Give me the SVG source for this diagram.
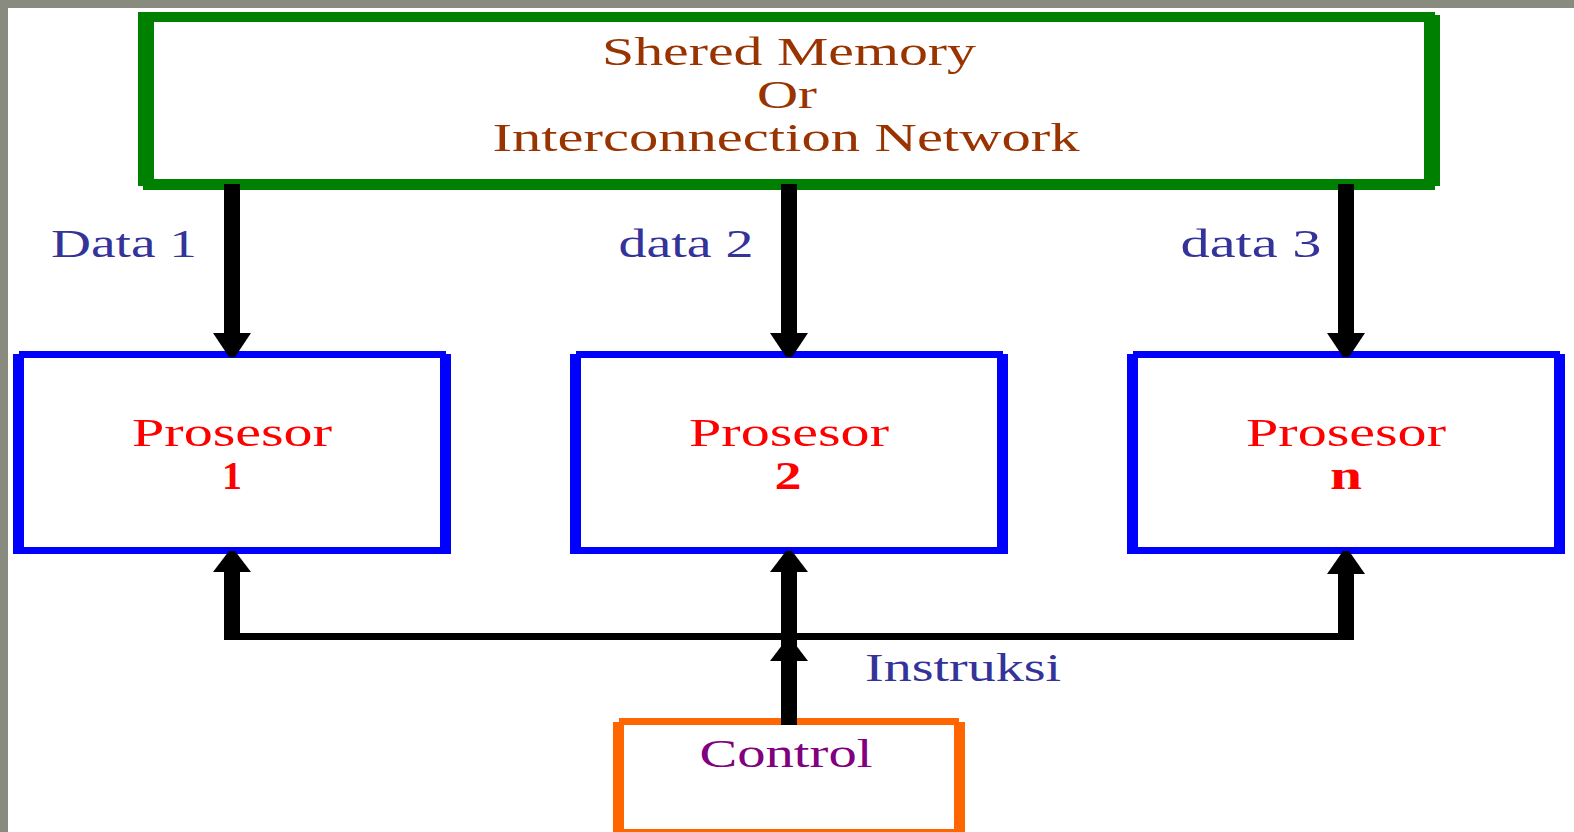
<svg xmlns="http://www.w3.org/2000/svg" width="1574" height="832" viewBox="0 0 1574 832">
<style>
.t{font-family:"Liberation Serif","DejaVu Serif",serif;font-size:40px}
.nav{fill:#333399}
.brn{fill:#993300}
.red{fill:#ff0000}
.pur{fill:#800080}
.blk{fill:#000000}
</style>
<rect x="0" y="0" width="1574" height="832" fill="#ffffff"/>
<rect x="0" y="0" width="1574" height="8" fill="#8a8b7f"/>
<rect x="0" y="0" width="8" height="832" fill="#8a8b7f"/>

<g id="memory">
<path fill="#008000" fill-rule="evenodd" d="M138,12 H1435 V15 H1440 V186 H1435 V190 H143 V186 H138 Z M154,22 V179 H1424 V22 Z"/>
<text class="t brn" x="789" y="65" text-anchor="middle" textLength="374" lengthAdjust="spacingAndGlyphs">Shered Memory</text>
<text class="t brn" x="787" y="108" text-anchor="middle" textLength="60" lengthAdjust="spacingAndGlyphs">Or</text>
<text class="t brn" x="786" y="151" text-anchor="middle" textLength="587" lengthAdjust="spacingAndGlyphs">Interconnection Network</text>
</g>

<g id="proc1">
<path fill="#0000ff" fill-rule="evenodd" d="M19,351 H446 V354 H451 V554 H13 V354 H19 Z M24,358 V547 H440 V358 Z"/>
<text class="t red" x="232" y="446" text-anchor="middle" textLength="200" lengthAdjust="spacingAndGlyphs">Prosesor</text>
<text class="t red" x="232" y="489" text-anchor="middle" font-weight="bold">1</text>
</g>

<g id="proc2">
<path fill="#0000ff" fill-rule="evenodd" d="M576,351 H1003 V354 H1008 V554 H570 V354 H576 Z M581,358 V547 H997 V358 Z"/>
<text class="t red" x="789" y="446" text-anchor="middle" textLength="200" lengthAdjust="spacingAndGlyphs">Prosesor</text>
<text class="t red" x="788" y="489" text-anchor="middle" font-weight="bold" textLength="27" lengthAdjust="spacingAndGlyphs">2</text>
</g>

<g id="proc3">
<path fill="#0000ff" fill-rule="evenodd" d="M1133,351 H1560 V354 H1565 V554 H1127 V354 H1133 Z M1138,358 V547 H1554 V358 Z"/>
<text class="t red" x="1346" y="446" text-anchor="middle" textLength="200" lengthAdjust="spacingAndGlyphs">Prosesor</text>
<text class="t red" x="1346" y="489" text-anchor="middle" font-weight="bold" textLength="32" lengthAdjust="spacingAndGlyphs">n</text>
</g>

<g id="control">
<path fill="#ff6600" fill-rule="evenodd" d="M619,718 H959 V722 H965 V832 H613 V722 H619 Z M624,725 V829 H954 V725 Z"/>
<text class="t pur" x="786" y="767" text-anchor="middle" textLength="173" lengthAdjust="spacingAndGlyphs">Control</text>
</g>

<g id="connectors">
<rect class="blk" x="224" y="184" width="16" height="152"/>
<polygon class="blk" points="213,333 251,333 235,357 229,357"/>
<rect class="blk" x="781" y="184" width="16" height="152"/>
<polygon class="blk" points="770,333 808,333 792,357 786,357"/>
<rect class="blk" x="1338" y="184" width="16" height="152"/>
<polygon class="blk" points="1327,333 1365,333 1349,357 1343,357"/>

<rect class="blk" x="224" y="566" width="16" height="74"/>
<polygon class="blk" points="213,572 251,572 235,551 229,551"/>
<rect class="blk" x="1338" y="566" width="16" height="74"/>
<polygon class="blk" points="1327,574 1365,574 1349,551 1343,551"/>
<rect class="blk" x="781" y="566" width="16" height="159"/>
<polygon class="blk" points="770,572 808,572 792,551 786,551"/>
<rect class="blk" x="224" y="633" width="1130" height="7"/>
<polygon class="blk" points="770,661 808,661 792,640 786,640"/>
</g>

<g id="labels">
<text class="t nav" x="124" y="257" text-anchor="middle" textLength="146" lengthAdjust="spacingAndGlyphs">Data 1</text>
<text class="t nav" x="686" y="257" text-anchor="middle" textLength="135" lengthAdjust="spacingAndGlyphs">data 2</text>
<text class="t nav" x="1251" y="257" text-anchor="middle" textLength="141" lengthAdjust="spacingAndGlyphs">data 3</text>
<text class="t nav" x="963" y="681" text-anchor="middle" textLength="196" lengthAdjust="spacingAndGlyphs">Instruksi</text>
</g>
</svg>
